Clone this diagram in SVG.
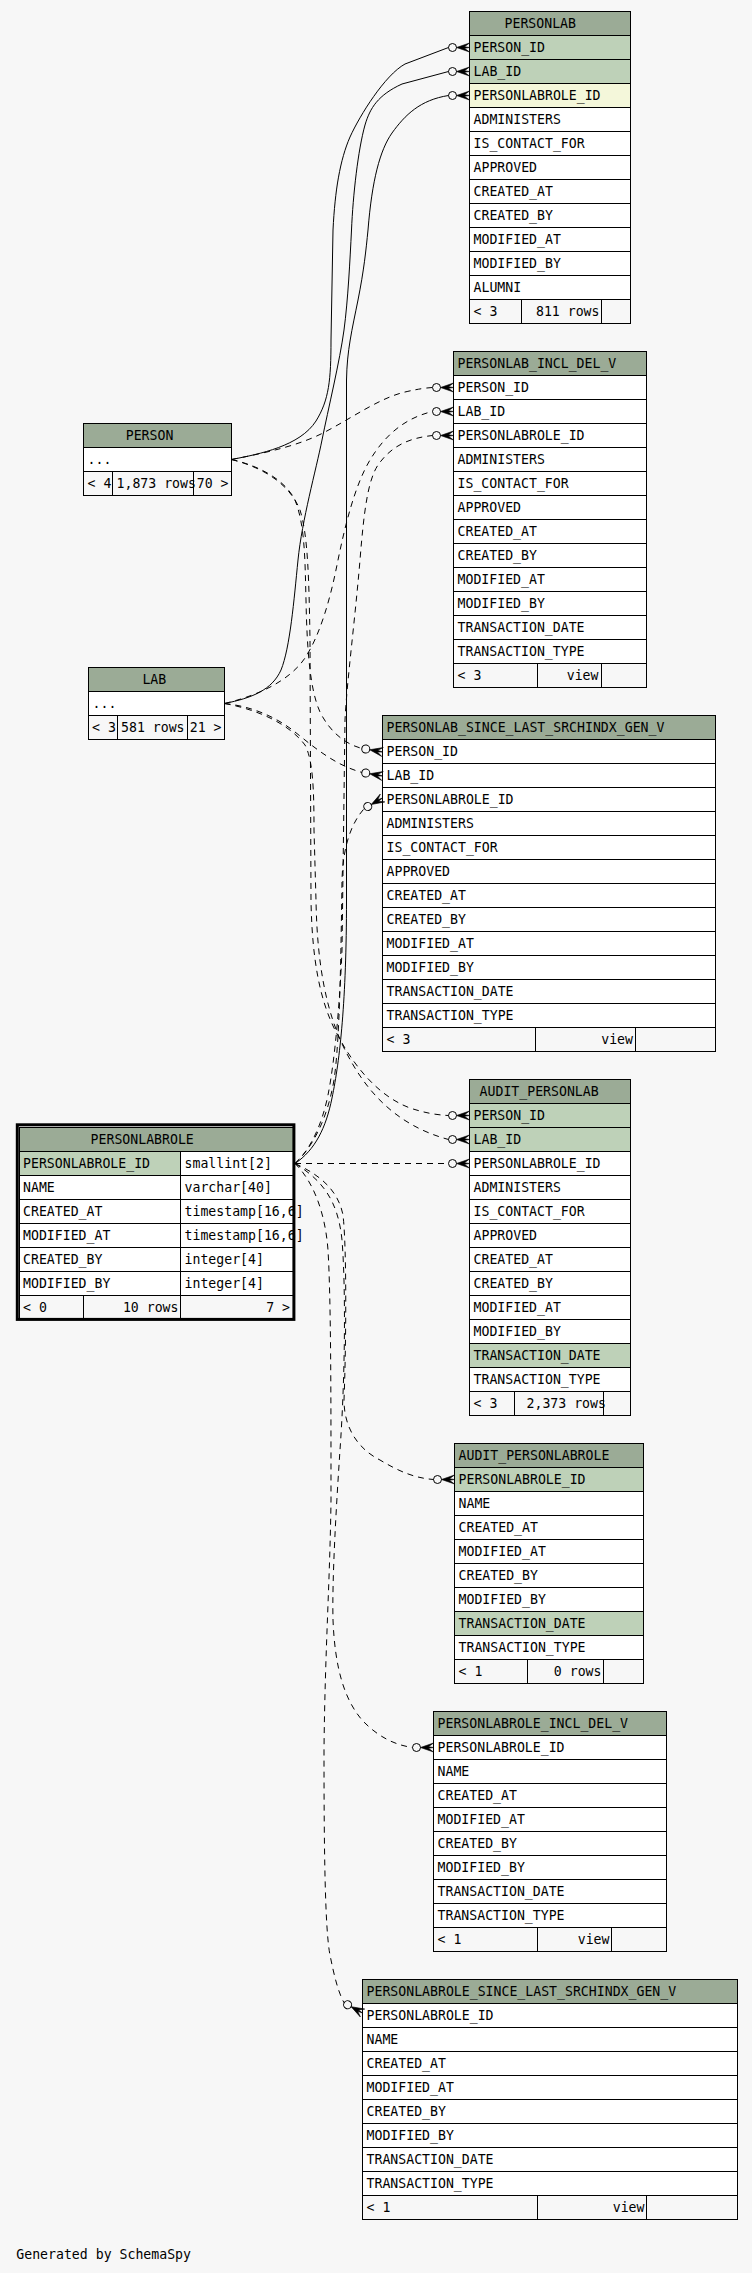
<svg xmlns="http://www.w3.org/2000/svg" xmlns:xlink="http://www.w3.org/1999/xlink" width="752" height="2273" viewBox="0 0 752 2273">
<style>
.t{font-family:"DejaVu Sans Mono","Liberation Mono",monospace;font-size:13.2px;fill:#000}
.e{text-anchor:end}
.h{fill:#9bab96;stroke:#000;stroke-width:1}
.r{fill:#fff;stroke:#000;stroke-width:1}
.pk{fill:#bed1b8;stroke:#000;stroke-width:1}
.fk{fill:#f4f7da;stroke:#000;stroke-width:1}
.ft{fill:#f7f7f7;stroke:#000;stroke-width:1}
.c{fill:none;stroke:#000;stroke-width:1}
.d{fill:none;stroke:#000;stroke-width:1;stroke-dasharray:6,5}
</style>
<defs>
<g id="cf">
<circle cx="-17" cy="0" r="4" fill="none" stroke="#000" stroke-width="1"/>
<polygon points="-13,0 0,-4.5 -5,-0.8 0,0 -5,0.8 0,4.5" fill="#000" stroke="#000" stroke-width="0.6"/>
</g>
</defs>
<rect x="0" y="0" width="752" height="2273" fill="#f7f7f7"/>

<g id="PERSONLAB">
<rect class="h" x="469.5" y="11.5" width="161" height="24"/><text class="t" x="504.5" y="28">PERSONLAB</text>
<rect class="pk" x="469.5" y="35.5" width="161" height="24"/><text class="t" x="473.5" y="52">PERSON_ID</text>
<rect class="pk" x="469.5" y="59.5" width="161" height="24"/><text class="t" x="473.5" y="76">LAB_ID</text>
<rect class="fk" x="469.5" y="83.5" width="161" height="24"/><text class="t" x="473.5" y="100">PERSONLABROLE_ID</text>
<rect class="r" x="469.5" y="107.5" width="161" height="24"/><text class="t" x="473.5" y="124">ADMINISTERS</text>
<rect class="r" x="469.5" y="131.5" width="161" height="24"/><text class="t" x="473.5" y="148">IS_CONTACT_FOR</text>
<rect class="r" x="469.5" y="155.5" width="161" height="24"/><text class="t" x="473.5" y="172">APPROVED</text>
<rect class="r" x="469.5" y="179.5" width="161" height="24"/><text class="t" x="473.5" y="196">CREATED_AT</text>
<rect class="r" x="469.5" y="203.5" width="161" height="24"/><text class="t" x="473.5" y="220">CREATED_BY</text>
<rect class="r" x="469.5" y="227.5" width="161" height="24"/><text class="t" x="473.5" y="244">MODIFIED_AT</text>
<rect class="r" x="469.5" y="251.5" width="161" height="24"/><text class="t" x="473.5" y="268">MODIFIED_BY</text>
<rect class="r" x="469.5" y="275.5" width="161" height="24"/><text class="t" x="473.5" y="292">ALUMNI</text>
<rect class="ft" x="469.5" y="299.5" width="52" height="24"/><rect class="ft" x="521.5" y="299.5" width="80" height="24"/><rect class="ft" x="601.5" y="299.5" width="29" height="24"/>
<text class="t" x="473.5" y="316">&lt; 3</text><text class="t e" x="599.5" y="316">811 rows</text>
</g>

<g id="PERSONLAB_INCL_DEL_V">
<rect class="h" x="453.5" y="351.5" width="193" height="24"/><text class="t" x="457.5" y="368">PERSONLAB_INCL_DEL_V</text>
<rect class="r" x="453.5" y="375.5" width="193" height="24"/><text class="t" x="457.5" y="392">PERSON_ID</text>
<rect class="r" x="453.5" y="399.5" width="193" height="24"/><text class="t" x="457.5" y="416">LAB_ID</text>
<rect class="r" x="453.5" y="423.5" width="193" height="24"/><text class="t" x="457.5" y="440">PERSONLABROLE_ID</text>
<rect class="r" x="453.5" y="447.5" width="193" height="24"/><text class="t" x="457.5" y="464">ADMINISTERS</text>
<rect class="r" x="453.5" y="471.5" width="193" height="24"/><text class="t" x="457.5" y="488">IS_CONTACT_FOR</text>
<rect class="r" x="453.5" y="495.5" width="193" height="24"/><text class="t" x="457.5" y="512">APPROVED</text>
<rect class="r" x="453.5" y="519.5" width="193" height="24"/><text class="t" x="457.5" y="536">CREATED_AT</text>
<rect class="r" x="453.5" y="543.5" width="193" height="24"/><text class="t" x="457.5" y="560">CREATED_BY</text>
<rect class="r" x="453.5" y="567.5" width="193" height="24"/><text class="t" x="457.5" y="584">MODIFIED_AT</text>
<rect class="r" x="453.5" y="591.5" width="193" height="24"/><text class="t" x="457.5" y="608">MODIFIED_BY</text>
<rect class="r" x="453.5" y="615.5" width="193" height="24"/><text class="t" x="457.5" y="632">TRANSACTION_DATE</text>
<rect class="r" x="453.5" y="639.5" width="193" height="24"/><text class="t" x="457.5" y="656">TRANSACTION_TYPE</text>
<rect class="ft" x="453.5" y="663.5" width="84" height="24"/><rect class="ft" x="537.5" y="663.5" width="64" height="24"/><rect class="ft" x="601.5" y="663.5" width="45" height="24"/>
<text class="t" x="457.5" y="680">&lt; 3</text><text class="t e" x="598.5" y="680">view</text>
</g>

<g id="PERSON">
<rect class="h" x="83.5" y="423.5" width="148" height="24"/><text class="t" x="125.7" y="440">PERSON</text>
<rect class="r" x="83.5" y="447.5" width="148" height="24"/><text class="t" x="87.5" y="464">...</text>
<rect class="ft" x="83.5" y="471.5" width="29" height="24"/><rect class="ft" x="112.5" y="471.5" width="81" height="24"/><rect class="ft" x="193.5" y="471.5" width="38" height="24"/>
<text class="t" x="87.5" y="488">&lt; 4</text><text class="t" x="116.5" y="488">1,873 rows</text><text class="t e" x="228.5" y="488">70 &gt;</text>
<line x1="193.5" y1="471.5" x2="193.5" y2="495.5" stroke="#000"/>
</g>

<g id="LAB">
<rect class="h" x="88.5" y="667.5" width="136" height="24"/><text class="t" x="142.4" y="684">LAB</text>
<rect class="r" x="88.5" y="691.5" width="136" height="24"/><text class="t" x="92.5" y="708">...</text>
<rect class="ft" x="88.5" y="715.5" width="29" height="24"/><rect class="ft" x="117.5" y="715.5" width="70" height="24"/><rect class="ft" x="187.5" y="715.5" width="37" height="24"/>
<text class="t" x="92" y="732">&lt; 3</text><text class="t" x="121" y="732">581 rows</text><text class="t e" x="221.5" y="732">21 &gt;</text>
</g>

<g id="PERSONLAB_SINCE_LAST_SRCHINDX_GEN_V">
<rect class="h" x="382.5" y="715.5" width="333" height="24"/><text class="t" x="386.5" y="732">PERSONLAB_SINCE_LAST_SRCHINDX_GEN_V</text>
<rect class="r" x="382.5" y="739.5" width="333" height="24"/><text class="t" x="386.5" y="756">PERSON_ID</text>
<rect class="r" x="382.5" y="763.5" width="333" height="24"/><text class="t" x="386.5" y="780">LAB_ID</text>
<rect class="r" x="382.5" y="787.5" width="333" height="24"/><text class="t" x="386.5" y="804">PERSONLABROLE_ID</text>
<rect class="r" x="382.5" y="811.5" width="333" height="24"/><text class="t" x="386.5" y="828">ADMINISTERS</text>
<rect class="r" x="382.5" y="835.5" width="333" height="24"/><text class="t" x="386.5" y="852">IS_CONTACT_FOR</text>
<rect class="r" x="382.5" y="859.5" width="333" height="24"/><text class="t" x="386.5" y="876">APPROVED</text>
<rect class="r" x="382.5" y="883.5" width="333" height="24"/><text class="t" x="386.5" y="900">CREATED_AT</text>
<rect class="r" x="382.5" y="907.5" width="333" height="24"/><text class="t" x="386.5" y="924">CREATED_BY</text>
<rect class="r" x="382.5" y="931.5" width="333" height="24"/><text class="t" x="386.5" y="948">MODIFIED_AT</text>
<rect class="r" x="382.5" y="955.5" width="333" height="24"/><text class="t" x="386.5" y="972">MODIFIED_BY</text>
<rect class="r" x="382.5" y="979.5" width="333" height="24"/><text class="t" x="386.5" y="996">TRANSACTION_DATE</text>
<rect class="r" x="382.5" y="1003.5" width="333" height="24"/><text class="t" x="386.5" y="1020">TRANSACTION_TYPE</text>
<rect class="ft" x="382.5" y="1027.5" width="153" height="24"/><rect class="ft" x="535.5" y="1027.5" width="100" height="24"/><rect class="ft" x="635.5" y="1027.5" width="80" height="24"/>
<text class="t" x="386.5" y="1044">&lt; 3</text><text class="t e" x="633" y="1044">view</text>
</g>

<g id="PERSONLABROLE">
<rect class="h" x="19.5" y="1127.5" width="274" height="24"/><text class="t" x="90.6" y="1144">PERSONLABROLE</text>
<rect class="pk" x="19.5" y="1151.5" width="161" height="24"/><rect class="r" x="180.5" y="1151.5" width="113" height="24"/>
<text class="t" x="23" y="1168">PERSONLABROLE_ID</text><text class="t" x="184.5" y="1168">smallint[2]</text>
<rect class="r" x="19.5" y="1175.5" width="161" height="24"/><rect class="r" x="180.5" y="1175.5" width="113" height="24"/>
<text class="t" x="23" y="1192">NAME</text><text class="t" x="184.5" y="1192">varchar[40]</text>
<rect class="r" x="19.5" y="1199.5" width="161" height="24"/><rect class="r" x="180.5" y="1199.5" width="113" height="24"/>
<text class="t" x="23" y="1216">CREATED_AT</text><text class="t" x="184.5" y="1216">timestamp[16,6]</text>
<rect class="r" x="19.5" y="1223.5" width="161" height="24"/><rect class="r" x="180.5" y="1223.5" width="113" height="24"/>
<text class="t" x="23" y="1240">MODIFIED_AT</text><text class="t" x="184.5" y="1240">timestamp[16,6]</text>
<rect class="r" x="19.5" y="1247.5" width="161" height="24"/><rect class="r" x="180.5" y="1247.5" width="113" height="24"/>
<text class="t" x="23" y="1264">CREATED_BY</text><text class="t" x="184.5" y="1264">integer[4]</text>
<rect class="r" x="19.5" y="1271.5" width="161" height="24"/><rect class="r" x="180.5" y="1271.5" width="113" height="24"/>
<text class="t" x="23" y="1288">MODIFIED_BY</text><text class="t" x="184.5" y="1288">integer[4]</text>
<rect class="ft" x="19.5" y="1295.5" width="64" height="24"/><rect class="ft" x="83.5" y="1295.5" width="97" height="24"/><rect class="ft" x="180.5" y="1295.5" width="113" height="24"/>
<text class="t" x="23" y="1312">&lt; 0</text><text class="t e" x="178.5" y="1312">10 rows</text><text class="t e" x="290" y="1312">7 &gt;</text>
<rect x="17.3" y="1124.8" width="276.6" height="194.6" fill="none" stroke="#000" stroke-width="3"/>
</g>

<g id="AUDIT_PERSONLAB">
<rect class="h" x="469.5" y="1079.5" width="161" height="24"/><text class="t" x="479.6" y="1096">AUDIT_PERSONLAB</text>
<rect class="pk" x="469.5" y="1103.5" width="161" height="24"/><text class="t" x="473.5" y="1120">PERSON_ID</text>
<rect class="pk" x="469.5" y="1127.5" width="161" height="24"/><text class="t" x="473.5" y="1144">LAB_ID</text>
<rect class="r" x="469.5" y="1151.5" width="161" height="24"/><text class="t" x="473.5" y="1168">PERSONLABROLE_ID</text>
<rect class="r" x="469.5" y="1175.5" width="161" height="24"/><text class="t" x="473.5" y="1192">ADMINISTERS</text>
<rect class="r" x="469.5" y="1199.5" width="161" height="24"/><text class="t" x="473.5" y="1216">IS_CONTACT_FOR</text>
<rect class="r" x="469.5" y="1223.5" width="161" height="24"/><text class="t" x="473.5" y="1240">APPROVED</text>
<rect class="r" x="469.5" y="1247.5" width="161" height="24"/><text class="t" x="473.5" y="1264">CREATED_AT</text>
<rect class="r" x="469.5" y="1271.5" width="161" height="24"/><text class="t" x="473.5" y="1288">CREATED_BY</text>
<rect class="r" x="469.5" y="1295.5" width="161" height="24"/><text class="t" x="473.5" y="1312">MODIFIED_AT</text>
<rect class="r" x="469.5" y="1319.5" width="161" height="24"/><text class="t" x="473.5" y="1336">MODIFIED_BY</text>
<rect class="pk" x="469.5" y="1343.5" width="161" height="24"/><text class="t" x="473.5" y="1360">TRANSACTION_DATE</text>
<rect class="r" x="469.5" y="1367.5" width="161" height="24"/><text class="t" x="473.5" y="1384">TRANSACTION_TYPE</text>
<rect class="ft" x="469.5" y="1391.5" width="45" height="24"/><rect class="ft" x="514.5" y="1391.5" width="89" height="24"/><rect class="ft" x="603.5" y="1391.5" width="27" height="24"/>
<text class="t" x="473.5" y="1408">&lt; 3</text><text class="t" x="526.5" y="1408">2,373 rows</text>
<line x1="603.5" y1="1391.5" x2="603.5" y2="1415.5" stroke="#000"/>
</g>

<g id="AUDIT_PERSONLABROLE">
<rect class="h" x="454.5" y="1443.5" width="189" height="24"/><text class="t" x="458.5" y="1460">AUDIT_PERSONLABROLE</text>
<rect class="pk" x="454.5" y="1467.5" width="189" height="24"/><text class="t" x="458.5" y="1484">PERSONLABROLE_ID</text>
<rect class="r" x="454.5" y="1491.5" width="189" height="24"/><text class="t" x="458.5" y="1508">NAME</text>
<rect class="r" x="454.5" y="1515.5" width="189" height="24"/><text class="t" x="458.5" y="1532">CREATED_AT</text>
<rect class="r" x="454.5" y="1539.5" width="189" height="24"/><text class="t" x="458.5" y="1556">MODIFIED_AT</text>
<rect class="r" x="454.5" y="1563.5" width="189" height="24"/><text class="t" x="458.5" y="1580">CREATED_BY</text>
<rect class="r" x="454.5" y="1587.5" width="189" height="24"/><text class="t" x="458.5" y="1604">MODIFIED_BY</text>
<rect class="pk" x="454.5" y="1611.5" width="189" height="24"/><text class="t" x="458.5" y="1628">TRANSACTION_DATE</text>
<rect class="r" x="454.5" y="1635.5" width="189" height="24"/><text class="t" x="458.5" y="1652">TRANSACTION_TYPE</text>
<rect class="ft" x="454.5" y="1659.5" width="73" height="24"/><rect class="ft" x="527.5" y="1659.5" width="76" height="24"/><rect class="ft" x="603.5" y="1659.5" width="40" height="24"/>
<text class="t" x="458.5" y="1676">&lt; 1</text><text class="t e" x="601.5" y="1676">0 rows</text>
</g>

<g id="PERSONLABROLE_INCL_DEL_V">
<rect class="h" x="433.5" y="1711.5" width="233" height="24"/><text class="t" x="437.5" y="1728">PERSONLABROLE_INCL_DEL_V</text>
<rect class="r" x="433.5" y="1735.5" width="233" height="24"/><text class="t" x="437.5" y="1752">PERSONLABROLE_ID</text>
<rect class="r" x="433.5" y="1759.5" width="233" height="24"/><text class="t" x="437.5" y="1776">NAME</text>
<rect class="r" x="433.5" y="1783.5" width="233" height="24"/><text class="t" x="437.5" y="1800">CREATED_AT</text>
<rect class="r" x="433.5" y="1807.5" width="233" height="24"/><text class="t" x="437.5" y="1824">MODIFIED_AT</text>
<rect class="r" x="433.5" y="1831.5" width="233" height="24"/><text class="t" x="437.5" y="1848">CREATED_BY</text>
<rect class="r" x="433.5" y="1855.5" width="233" height="24"/><text class="t" x="437.5" y="1872">MODIFIED_BY</text>
<rect class="r" x="433.5" y="1879.5" width="233" height="24"/><text class="t" x="437.5" y="1896">TRANSACTION_DATE</text>
<rect class="r" x="433.5" y="1903.5" width="233" height="24"/><text class="t" x="437.5" y="1920">TRANSACTION_TYPE</text>
<rect class="ft" x="433.5" y="1927.5" width="104" height="24"/><rect class="ft" x="537.5" y="1927.5" width="74" height="24"/><rect class="ft" x="611.5" y="1927.5" width="55" height="24"/>
<text class="t" x="437.5" y="1944">&lt; 1</text><text class="t e" x="609.5" y="1944">view</text>
</g>

<g id="PERSONLABROLE_SINCE_LAST_SRCHINDX_GEN_V">
<rect class="h" x="362.5" y="1979.5" width="375" height="24"/><text class="t" x="366.5" y="1996">PERSONLABROLE_SINCE_LAST_SRCHINDX_GEN_V</text>
<rect class="r" x="362.5" y="2003.5" width="375" height="24"/><text class="t" x="366.5" y="2020">PERSONLABROLE_ID</text>
<rect class="r" x="362.5" y="2027.5" width="375" height="24"/><text class="t" x="366.5" y="2044">NAME</text>
<rect class="r" x="362.5" y="2051.5" width="375" height="24"/><text class="t" x="366.5" y="2068">CREATED_AT</text>
<rect class="r" x="362.5" y="2075.5" width="375" height="24"/><text class="t" x="366.5" y="2092">MODIFIED_AT</text>
<rect class="r" x="362.5" y="2099.5" width="375" height="24"/><text class="t" x="366.5" y="2116">CREATED_BY</text>
<rect class="r" x="362.5" y="2123.5" width="375" height="24"/><text class="t" x="366.5" y="2140">MODIFIED_BY</text>
<rect class="r" x="362.5" y="2147.5" width="375" height="24"/><text class="t" x="366.5" y="2164">TRANSACTION_DATE</text>
<rect class="r" x="362.5" y="2171.5" width="375" height="24"/><text class="t" x="366.5" y="2188">TRANSACTION_TYPE</text>
<rect class="ft" x="362.5" y="2195.5" width="175" height="24"/><rect class="ft" x="537.5" y="2195.5" width="109" height="24"/><rect class="ft" x="646.5" y="2195.5" width="91" height="24"/>
<text class="t" x="366.5" y="2212">&lt; 1</text><text class="t e" x="644.5" y="2212">view</text>
</g>

<g id="connectors">
<path class="c" d="M231.5,459.5 C260,454 300,446 316,421 C329,400 331,380 331,340 L333,230 C335,190 340,160 350,137 C360,115 385,75 405,64 L448.5,47.5"/>
<path class="c" d="M224.5,703.5 C252,698 272,690 281,670 C290,648 294,600 298,560 C302,520 316,470 322,440 C328,410 340,360 344,330 C348,300 350,260 351.5,230 C353,195 358,150 365,125 C370,108 378,95 402,84 L448.5,71.5"/>
<path class="c" d="M295,1163.5 C315,1150 326,1128 332,1098 C340,1060 346.5,1000 346.5,900 L346.5,380 C347,350 352,330 358,300 C364,270 366,250 368,230 C372,180 380,150 392,133 C405,115 420,100 448.5,95.5"/>
<path class="d" d="M231.5,459.5 C270,452 300,445 325,432 C355,416 380,398 405,392 C418,389 425,388 432.5,387.5"/>
<path class="d" d="M224.5,703.5 C260,695 290,680 305,658 C320,635 330,600 337,565 C345,525 355,485 370,460 C385,435 405,418 432.5,411.5"/>
<path class="d" d="M295,1163.5 C310,1150 322,1125 328,1095 C335,1060 340,1000 342,950 L345,720 C347,680 355,620 360,560 C364,510 368,480 378,465 C392,445 410,438 432.5,435.5"/>
<path class="d" d="M231.5,459.5 C260,466 285,480 295,500 C305,525 305,560 306,600 C307,650 310,690 320,712 C330,732 345,744 361.8,748.4"/>
<path class="d" d="M224.5,703.5 C250,706 275,716 295,732 C315,748 335,765 361.8,772.4"/>
<path class="d" d="M295,1163.5 C315,1145 328,1115 334,1080 C340,1040 341,950 342,880 C343,845 352,822 364.3,808.5"/>
<path class="d" d="M231.5,459.5 C265,468 290,485 300,510 C308,535 309,580 310,640 L311,900 C312,960 320,1000 335,1030 C350,1060 375,1095 410,1108 C425,1113 437,1115 448.5,1115.5"/>
<path class="d" d="M224.5,703.5 C260,710 290,725 305,745 C313,760 314,790 314,830 L316,900 C317,960 325,1010 345,1050 C365,1090 395,1125 448.5,1139.5"/>
<path class="d" d="M295,1163.5 L448.5,1163.5"/>
<path class="d" d="M295,1163.5 C320,1175 338,1190 343,1215 C347,1250 346,1350 344,1400 C344,1430 360,1450 380,1460 C400,1472 415,1478 433.5,1479.5"/>
<path class="d" d="M295,1163.5 C322,1180 338,1200 342,1240 C346,1290 345,1380 340,1450 C336,1510 332,1580 333,1620 C335,1670 345,1700 362,1720 C378,1737 395,1745 412.5,1747.5"/>
<path class="d" d="M295,1163.5 C312,1180 325,1210 328,1250 C331,1300 331,1400 331,1500 C330,1580 325,1650 324,1750 C324,1850 325,1930 330,1955 C334,1975 338,1992 344.1,2002.8"/>
<use xlink:href="#cf" transform="translate(469.5,47.5)"/>
<use xlink:href="#cf" transform="translate(469.5,71.5)"/>
<use xlink:href="#cf" transform="translate(469.5,95.5)"/>
<use xlink:href="#cf" transform="translate(453.5,387.5)"/>
<use xlink:href="#cf" transform="translate(453.5,411.5)"/>
<use xlink:href="#cf" transform="translate(453.5,435.5)"/>
<use xlink:href="#cf" transform="translate(382.5,752) rotate(10)"/>
<use xlink:href="#cf" transform="translate(382.5,776) rotate(10)"/>
<use xlink:href="#cf" transform="translate(382.5,798) rotate(-30)"/>
<use xlink:href="#cf" transform="translate(469.5,1115.5)"/>
<use xlink:href="#cf" transform="translate(469.5,1139.5)"/>
<use xlink:href="#cf" transform="translate(469.5,1163.5)"/>
<use xlink:href="#cf" transform="translate(454.5,1479.5)"/>
<use xlink:href="#cf" transform="translate(433.5,1747.5)"/>
<use xlink:href="#cf" transform="translate(362.5,2013) rotate(29)"/>
</g>

<text class="t" x="16.3" y="2259">Generated by SchemaSpy</text>
</svg>
